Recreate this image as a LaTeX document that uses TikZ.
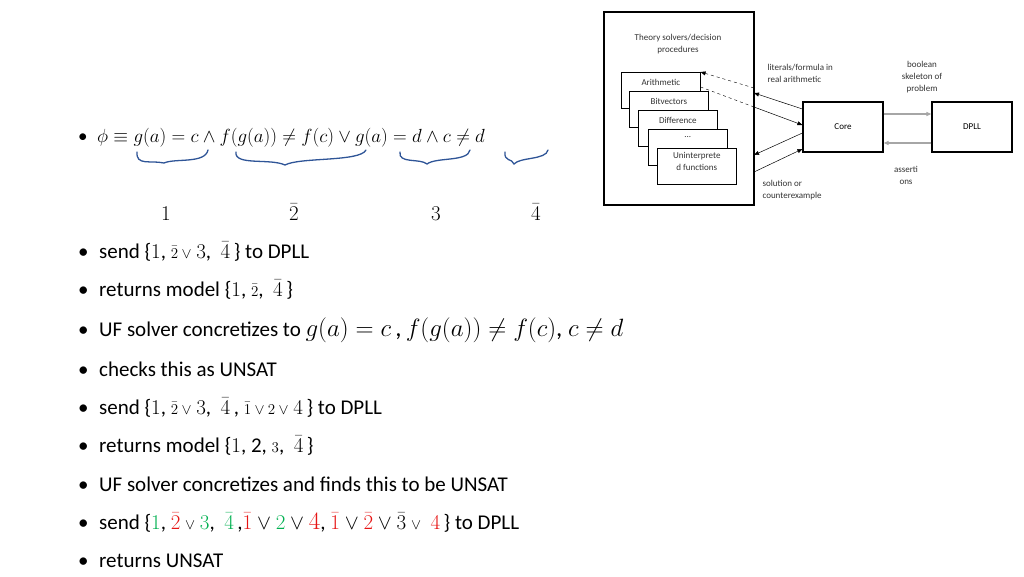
\documentclass[tikz,border=0pt]{standalone}
\usepackage{fix-cm}
\usepackage{fontspec}
\setmainfont{Carlito}
\usetikzlibrary{arrows.meta}
\definecolor{bb}{RGB}{47,85,151}
\definecolor{gr}{RGB}{0,176,80}
\definecolor{rd}{RGB}{230,20,20}
\newcommand{\smz}{\fontsize{15}{18}\selectfont}
\newcommand{\bgz}{\fontsize{25}{30}\selectfont}
\newcommand{\orr}{$\vee$}
\begin{document}
\begin{tikzpicture}[x=1pt,y=-1pt,
 sb/.style={draw,fill=white,line width=0.6pt,minimum width=79pt,minimum height=36pt},
 lab/.style={font=\fontsize{9}{12}\selectfont,align=center,text=black!80},
 bl/.style={anchor=base west,font=\fontsize{21}{24}\selectfont,inner sep=0},
 ar/.style={-{Triangle[length=5pt,width=4pt]},line width=0.5pt},
 brc/.style={draw=bb,line width=1.3pt,line cap=round}]
\useasboundingbox (0,0) rectangle (1024,576);
% theory box
\node[draw,line width=1.5pt,minimum width=150pt,minimum height=193pt,anchor=north west] (th) at (603,11) {};
\node[lab] (tt) at (678,44) {Theory solvers/decision\\procedures};
\node[sb,anchor=north west] (ari) at (621,72) {};
\node[lab,anchor=north,yshift=-4pt] at (ari.north) {Arithmetic};
\node[sb,anchor=north west] (bit) at (629,91) {};
\node[lab,anchor=north,yshift=-4pt] at (bit.north) {Bitvectors};
\node[sb,anchor=north west] (dif) at (638,110) {};
\node[lab,anchor=north,yshift=-4pt] at (dif.north) {Difference};
\node[sb,anchor=north west] (dots) at (648,129) {};
\node[lab,anchor=north,yshift=-4pt] at (dots.north) {...};
\node[sb,anchor=north west] (uf) at (657,148) {};
\node[lab,anchor=north,yshift=-1pt] at (uf.north) {Uninterprete\\d functions};
\node[draw,line width=1.2pt,minimum width=80pt,minimum height=50pt] (core) at (843,127) {\fontsize{9}{11}\selectfont Core};
\node[draw,line width=1.2pt,minimum width=80pt,minimum height=50pt] (dpll) at (972,127) {\fontsize{9}{11}\selectfont DPLL};
\draw[ar,draw=black!35,line width=1.2pt] (core.east|-0,114) -- (dpll.west|-0,114);
\draw[ar,draw=black!35,line width=1.2pt] (dpll.west|-0,143) -- (core.east|-0,143);
\coordinate (p1) at (754,93); \coordinate (p2) at (754,88);
\coordinate (p3) at (754,107);
\draw[ar] (core.west|-0,109) -- (p1);
\draw[ar,dashed,line width=0.4pt] (p2) -- (ari.north east);
\draw[dashed,line width=0.4pt] (ari.east|-0,87) -- (p3);
\draw[ar] (p3) -- (core.west|-0,125);
\coordinate (p4) at (754,155); \coordinate (p5) at (754,172);
\draw[ar] (core.west|-0,133) -- (p4);
\draw[ar] (p5) -- (core.west|-0,149);
\node[lab,align=left,anchor=west] at (764,73) {literals/formula in\\real arithmetic};
\node[lab] at (922,77) {boolean\\skeleton of\\problem};
\node[lab] at (906,175) {asserti\\ons};
\node[lab,align=left,anchor=west] at (759,190) {solution or\\counterexample};
% formula
\node[bl,font=\fontsize{19}{22}\selectfont] (f0) at (78,142) {•\enspace$\phi\equiv g(a)=c\wedge f\bigl(g(a)\bigr)\neq f(c)\vee g(a)=d\wedge c\neq d$};
\draw[brc] (137,152) .. controls (136,166) and (150,160) .. (164,163) .. controls (175,158) and (205,164) .. (208,150);
\draw[brc] (236,152) .. controls (234,166) and (270,158) .. (285,165) .. controls (300,157) and (360,162) .. (366,150);
\draw[brc] (400,152) .. controls (398,164) and (420,158) .. (427,164) .. controls (436,157) and (468,162) .. (470,150);
\draw[brc] (505,152) .. controls (504,162) and (512,158) .. (514,164) .. controls (520,157) and (546,160) .. (548,150);
\node[bl] (n1) at (161,220) {$1$};
\node[bl] (n2) at (289,220) {$\bar 2$};
\node[bl] (n3) at (431,220) {$3$};
\node[bl] (n4) at (531,220) {$\bar 4$};
% bullets
\node[bl] (l1) at (78,258) {•\enspace send \{$1$, {\smz$\bar2$ \orr} $3$,\ \ $\bar4$\,\} to DPLL};
\node[bl] (l2) at (78,296) {•\enspace returns model \{$1$, {\smz$\bar2$},\ \ $\bar4$\,\}};
\node[bl] (l3) at (78,336) {•\enspace UF solver concretizes to {\bgz$g(a)=c$\,,\,$f\bigl(g(a)\bigr)\neq f(c)$, $c\neq d$}};
\node[bl] (l4) at (78,376) {•\enspace checks this as UNSAT};
\node[bl] (l5) at (78,414) {•\enspace send \{$1$, {\smz$\bar2$ \orr} $3$,\ \ $\bar4$\,, {\smz$\bar1$ \orr{} $2$ \orr} $4$\,\} to DPLL};
\node[bl] (l6) at (78,452) {•\enspace returns model \{$1$, 2, {\smz$3$},\ \ $\bar4$\,\}};
\node[bl] (l7) at (78,491) {•\enspace UF solver concretizes and finds this to be UNSAT};
\node[bl] (l8) at (78,529) {•\enspace send \{\textcolor{gr}{$1$}, \textcolor{rd}{$\bar2$} {\smz\orr} \textcolor{gr}{$3$},\ \ \textcolor{gr}{$\bar4$}\,,\textcolor{rd}{$\bar1$} \orr{} \textcolor{gr}{$2$} \orr{} \textcolor{rd}{\bgz$4$}, \textcolor{rd}{$\bar1$} \orr{} \textcolor{rd}{$\bar2$} \orr{} $\bar3$ {\smz\orr}\ \ \textcolor{rd}{$4$}\,\} to DPLL};
\node[bl] (l9) at (78,567) {•\enspace returns UNSAT};
\end{tikzpicture}
\end{document}
